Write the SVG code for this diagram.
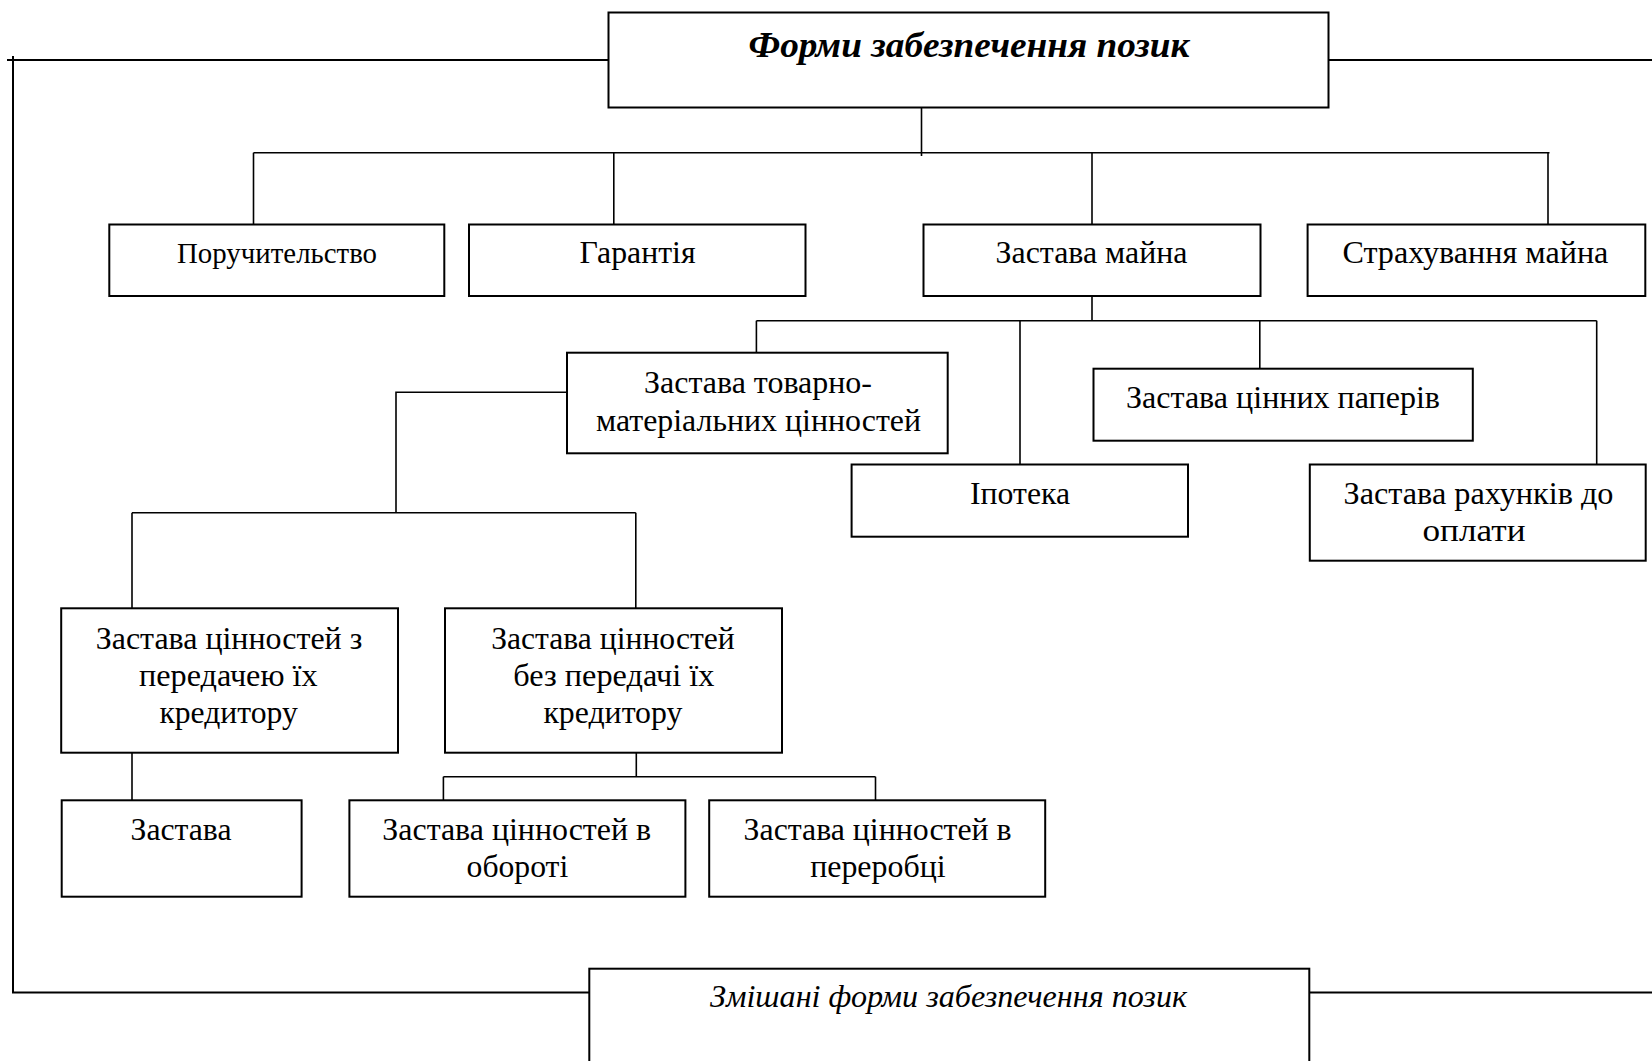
<svg xmlns="http://www.w3.org/2000/svg" width="1652" height="1061" viewBox="0 0 1652 1061">
<style>
.bx{fill:#fff;stroke:#000;stroke-width:2}
.ln{fill:none;stroke:#000;stroke-width:1.6}
.fr{fill:none;stroke:#000;stroke-width:2}
text{font-family:"Liberation Serif","Times New Roman",serif;font-size:32px;fill:#000;text-anchor:middle}
.ti{font-weight:bold;font-style:italic;font-size:36px}
.it{font-style:italic}
</style>
<rect width="1652" height="1061" fill="#fff"/>
<g id="connectors">
<polyline class="fr" points="608,60 7,60"/>
<polyline class="fr" points="13,56 13,992.5 589,992.5"/>
<line class="fr" x1="1328" y1="60" x2="1652" y2="60"/>
<line class="fr" x1="1309" y1="992.5" x2="1652" y2="992.5"/>
<line class="ln" x1="921.5" y1="107.5" x2="921.5" y2="156"/>
<line class="ln" x1="253.5" y1="152.7" x2="1549.5" y2="152.7"/>
<line class="ln" x1="253.5" y1="152.7" x2="253.5" y2="224.5"/>
<line class="ln" x1="613.8" y1="152.7" x2="613.8" y2="224.5"/>
<line class="ln" x1="1092" y1="152.7" x2="1092" y2="224.5"/>
<line class="ln" x1="1548" y1="152.7" x2="1548" y2="224.5"/>
<line class="ln" x1="1092" y1="296" x2="1092" y2="320.7"/>
<line class="ln" x1="756.4" y1="320.7" x2="1596.7" y2="320.7"/>
<line class="ln" x1="756.4" y1="320.7" x2="756.4" y2="352.7"/>
<line class="ln" x1="1020" y1="320.7" x2="1020" y2="464.5"/>
<line class="ln" x1="1259.8" y1="320.7" x2="1259.8" y2="368.7"/>
<line class="ln" x1="1596.7" y1="320.7" x2="1596.7" y2="464.5"/>
<polyline class="ln" points="567,392.3 396,392.3 396,512.7"/>
<line class="ln" x1="132" y1="512.7" x2="635.8" y2="512.7"/>
<line class="ln" x1="132" y1="512.7" x2="132" y2="608.3"/>
<line class="ln" x1="635.8" y1="512.7" x2="635.8" y2="608.3"/>
<line class="ln" x1="132" y1="752.7" x2="132" y2="800.3"/>
<line class="ln" x1="636.3" y1="752.7" x2="636.3" y2="776.7"/>
<line class="ln" x1="443.4" y1="776.7" x2="875.5" y2="776.7"/>
<line class="ln" x1="443.4" y1="776.7" x2="443.4" y2="800.3"/>
<line class="ln" x1="875.5" y1="776.7" x2="875.5" y2="800.3"/>
</g>
<g id="n-root">
<rect class="bx" x="608.5" y="12.5" width="720" height="95"/>
<text class="ti" x="969" y="57" textLength="441" lengthAdjust="spacingAndGlyphs">Форми забезпечення позик</text>
</g>
<g id="n-poruch">
<rect class="bx" x="109.3" y="224.5" width="335" height="71.5"/>
<text x="277" y="263.3" style="font-size:29px" textLength="200" lengthAdjust="spacingAndGlyphs">Поручительство</text>
</g>
<g id="n-garant">
<rect class="bx" x="469" y="224.5" width="336.5" height="71.5"/>
<text x="637.5" y="263.3" textLength="116" lengthAdjust="spacingAndGlyphs">Гарантія</text>
</g>
<g id="n-zastava-mayna">
<rect class="bx" x="923.5" y="224.5" width="337" height="71.5"/>
<text x="1091.5" y="263.3" textLength="192" lengthAdjust="spacingAndGlyphs">Застава майна</text>
</g>
<g id="n-strakh">
<rect class="bx" x="1307.6" y="224.5" width="337.7" height="71.5"/>
<text x="1475.4" y="263.3" textLength="266" lengthAdjust="spacingAndGlyphs">Страхування майна</text>
</g>
<g id="n-tmc">
<rect class="bx" x="567" y="352.7" width="380.7" height="100.6"/>
<text x="758" y="393" textLength="228" lengthAdjust="spacingAndGlyphs">Застава товарно-</text>
<text x="758.5" y="431" textLength="325" lengthAdjust="spacingAndGlyphs">матеріальних цінностей</text>
</g>
<g id="n-ipoteka">
<rect class="bx" x="851.6" y="464.5" width="336.4" height="72.2"/>
<text x="1020" y="504" textLength="100" lengthAdjust="spacingAndGlyphs">Іпотека</text>
</g>
<g id="n-papery">
<rect class="bx" x="1093.5" y="368.7" width="379.3" height="72"/>
<text x="1283" y="408" textLength="314" lengthAdjust="spacingAndGlyphs">Застава цінних паперів</text>
</g>
<g id="n-rakhunky">
<rect class="bx" x="1309.8" y="464.5" width="335.9" height="96.2"/>
<text x="1478.5" y="504" textLength="270" lengthAdjust="spacingAndGlyphs">Застава рахунків до</text>
<text x="1474" y="541" textLength="103" lengthAdjust="spacingAndGlyphs">оплати</text>
</g>
<g id="n-z-peredacheyu">
<rect class="bx" x="61.2" y="608.3" width="336.8" height="144.4"/>
<text x="229" y="649" textLength="266.5" lengthAdjust="spacingAndGlyphs">Застава цінностей з</text>
<text x="228.3" y="686" textLength="178.6" lengthAdjust="spacingAndGlyphs">передачею їх</text>
<text x="228.6" y="723" textLength="138.4" lengthAdjust="spacingAndGlyphs">кредитору</text>
</g>
<g id="n-bez-peredachi">
<rect class="bx" x="445" y="608.3" width="337" height="144.4"/>
<text x="613" y="649" textLength="243.6" lengthAdjust="spacingAndGlyphs">Застава цінностей</text>
<text x="613.8" y="686" textLength="201" lengthAdjust="spacingAndGlyphs">без передачі їх</text>
<text x="612.9" y="723" textLength="139" lengthAdjust="spacingAndGlyphs">кредитору</text>
</g>
<g id="n-zastava">
<rect class="bx" x="61.7" y="800.3" width="239.9" height="96.4"/>
<text x="181" y="840" textLength="101" lengthAdjust="spacingAndGlyphs">Застава</text>
</g>
<g id="n-oborot">
<rect class="bx" x="349.4" y="800.3" width="336" height="96.4"/>
<text x="516.7" y="840" textLength="268.7" lengthAdjust="spacingAndGlyphs">Застава цінностей в</text>
<text x="517.4" y="877" textLength="101.7" lengthAdjust="spacingAndGlyphs">обороті</text>
</g>
<g id="n-pererobka">
<rect class="bx" x="709.2" y="800.3" width="336" height="96.4"/>
<text x="877.6" y="840" textLength="268" lengthAdjust="spacingAndGlyphs">Застава цінностей в</text>
<text x="877.9" y="877" textLength="135.4" lengthAdjust="spacingAndGlyphs">переробці</text>
</g>
<g id="n-mixed">
<rect class="bx" x="589.3" y="968.7" width="720" height="120"/>
<text class="it" x="948.5" y="1007" textLength="477" lengthAdjust="spacingAndGlyphs">Змішані форми забезпечення позик</text>
</g>
</svg>
